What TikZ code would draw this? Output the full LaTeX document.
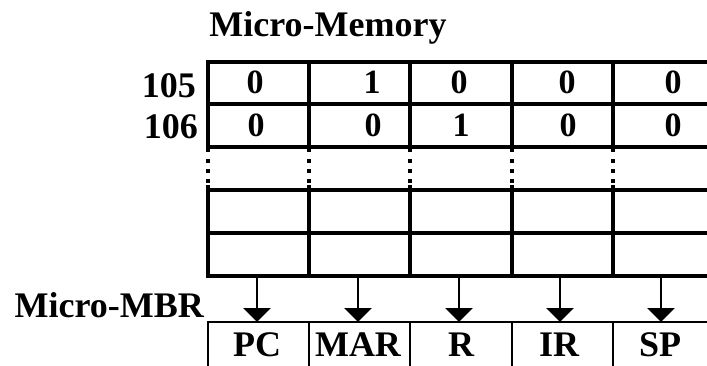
\documentclass[tikz,border=0pt]{standalone}
\usepackage{fontspec}
\setmainfont{Liberation Serif}
\usetikzlibrary{arrows.meta}
\begin{document}
\begin{tikzpicture}[x=1pt,y=-1pt,
  txt/.style={font=\fontsize{36}{36}\selectfont\bfseries, inner sep=0pt, anchor=base},
  cellval/.style={font=\fontsize{34}{34}\selectfont\bfseries, inner sep=0pt, anchor=base},
  grid/.style={line width=3.8pt, line cap=rect},
  boxline/.style={line width=2pt},
  feed/.style={line width=2.6pt, -{Triangle[width=27pt,length=14pt]}},
  dotmark/.style={fill=black, minimum size=3.2pt, inner sep=0pt, draw=none}]
\useasboundingbox (0,0) rectangle (707,365);
\begin{scope}
\clip (0,0) rectangle (707,365);

% title and row addresses
\node[txt] (title) at (328,36) {Micro-Memory};
\node[txt, anchor=base east] (a105) at (196,97) {105};
\node[txt, anchor=base east] (a106) at (198,138) {106};
\node[txt, anchor=base east] (mbr) at (204,317) {Micro-MBR};

% upper part of the micro-memory: two filled rows
\draw[grid] (208,62) -- (720,62);
\draw[grid] (208,104) -- (720,104);
\draw[grid] (208,147) -- (720,147);
\foreach \x in {208,309,410,512,613}
  \draw[grid, line cap=butt] (\x,60) -- (\x,152);

% lower part: two empty rows
\draw[grid] (208,190) -- (720,190);
\draw[grid] (208,233) -- (720,233);
\draw[grid] (208,276) -- (720,276);
\foreach \x in {208,309,410,512,613}
  \draw[grid, line cap=butt] (\x,185) -- (\x,278);

% dotted continuation between the two parts
\foreach \x in {208,309,410,512,613}
  \foreach \y in {161,171,181}
    \node[dotmark] at (\x,\y) {};

% stored bits
\node[cellval] (b11) at (255,93) {0};
\node[cellval] (b12) at (372,93) {1};
\node[cellval] (b13) at (459,93) {0};
\node[cellval] (b14) at (567,93) {0};
\node[cellval] (b15) at (673,93) {0};
\node[cellval] (b21) at (256,136) {0};
\node[cellval] (b22) at (373,136) {0};
\node[cellval] (b23) at (461,136) {1};
\node[cellval] (b24) at (568,136) {0};
\node[cellval] (b25) at (673,136) {0};

% micro-MBR register fields
\draw[boxline] (208,370) -- (208,322) -- (720,322);
\foreach \x in {309,410,512,613}
  \draw[boxline] (\x,322) -- (\x,370);
\node[txt] (pc)  at (257,356) {PC};
\node[txt] (mar) at (358,356) {MAR};
\node[txt] (r)   at (461,356) {R};
\node[txt] (ir)  at (559,356) {IR};
\node[txt] (sp)  at (660,356) {SP};

% feeds from the micro-memory output into the register fields
\foreach \n/\x in {1/257,2/358,3/459,4/560,5/661}{
  \coordinate (src\n) at (\x,276);
  \coordinate (dst\n) at (\x,322);
  \draw[feed] (src\n) -- (dst\n);
}
\end{scope}
\end{tikzpicture}
\end{document}
